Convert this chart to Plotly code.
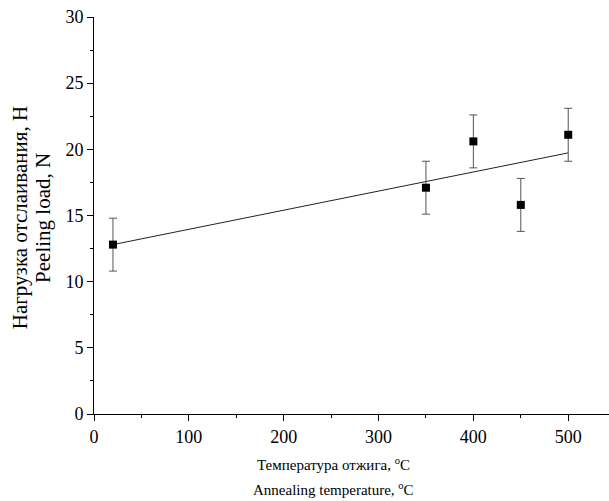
import numpy as np
import plotly.graph_objects as go

# Annealing temperature, °C
temperature = [20, 350, 400, 450, 500]
# Peeling load, N
peeling_load = [12.8, 17.1, 20.6, 15.8, 21.1]
load_error = [2.0, 2.0, 2.0, 2.0, 2.0]

x_ticks = [0, 100, 200, 300, 400, 500]
y_ticks = [0, 5, 10, 15, 20, 25, 30]

# linear regression through the measured points
slope, intercept = np.polyfit(temperature, peeling_load, 1)
fit_x = [min(temperature), max(temperature)]
fit_y = [slope * v + intercept for v in fit_x]

font_family = "Times New Roman, Liberation Serif, serif"

fig = go.Figure()
fig.add_trace(go.Scatter(
    x=fit_x, y=fit_y, mode="lines",
    line=dict(color="#222222", width=1), showlegend=False, hoverinfo="skip"))
fig.add_trace(go.Scatter(
    x=temperature, y=peeling_load, mode="markers",
    marker=dict(symbol="square", size=8, color="black"),
    error_y=dict(type="data", array=load_error, visible=True,
                 color="#555555", thickness=1, width=4),
    showlegend=False))

axis_common = dict(
    showgrid=False, zeroline=False, showline=True, linecolor="black", linewidth=1,
    ticks="outside", ticklen=6, tickwidth=1, tickcolor="black",
    tickfont=dict(family=font_family, size=18, color="black"),
)

fig.update_xaxes(range=[0, 543], tickvals=x_ticks,
                 minor=dict(ticks="outside", ticklen=3, dtick=50, tickcolor="black"),
                 **axis_common)
fig.update_yaxes(range=[0, 30], tickvals=y_ticks,
                 minor=dict(ticks="outside", ticklen=3, dtick=2.5, tickcolor="black"),
                 **axis_common)

title_font = dict(family=font_family, size=15, color="black")
ytitle_font = dict(family=font_family, size=21, color="black")
fig.update_layout(
    width=609, height=501,
    margin=dict(l=94, r=0, t=17, b=87),
    paper_bgcolor="white", plot_bgcolor="white",
    font=dict(family=font_family, color="black"),
    annotations=[
        dict(text="Температура отжига, <sup>o</sup>C", xref="x", yref="paper",
             x=253, y=-0.126, xanchor="center", yanchor="middle",
             showarrow=False, font=title_font),
        dict(text="Annealing temperature, <sup>o</sup>C", xref="x", yref="paper",
             x=253, y=-0.19, xanchor="center", yanchor="middle",
             showarrow=False, font=title_font),
        dict(text="Нагрузка отслаивания, Н", xref="paper", yref="paper",
             x=-0.143, y=0.494, xanchor="center", yanchor="middle", textangle=-90,
             showarrow=False, font=ytitle_font),
        dict(text="Peeling load, N", xref="paper", yref="paper",
             x=-0.099, y=0.494, xanchor="center", yanchor="middle", textangle=-90,
             showarrow=False, font=ytitle_font),
    ],
)

fig.write_html("out.html")
